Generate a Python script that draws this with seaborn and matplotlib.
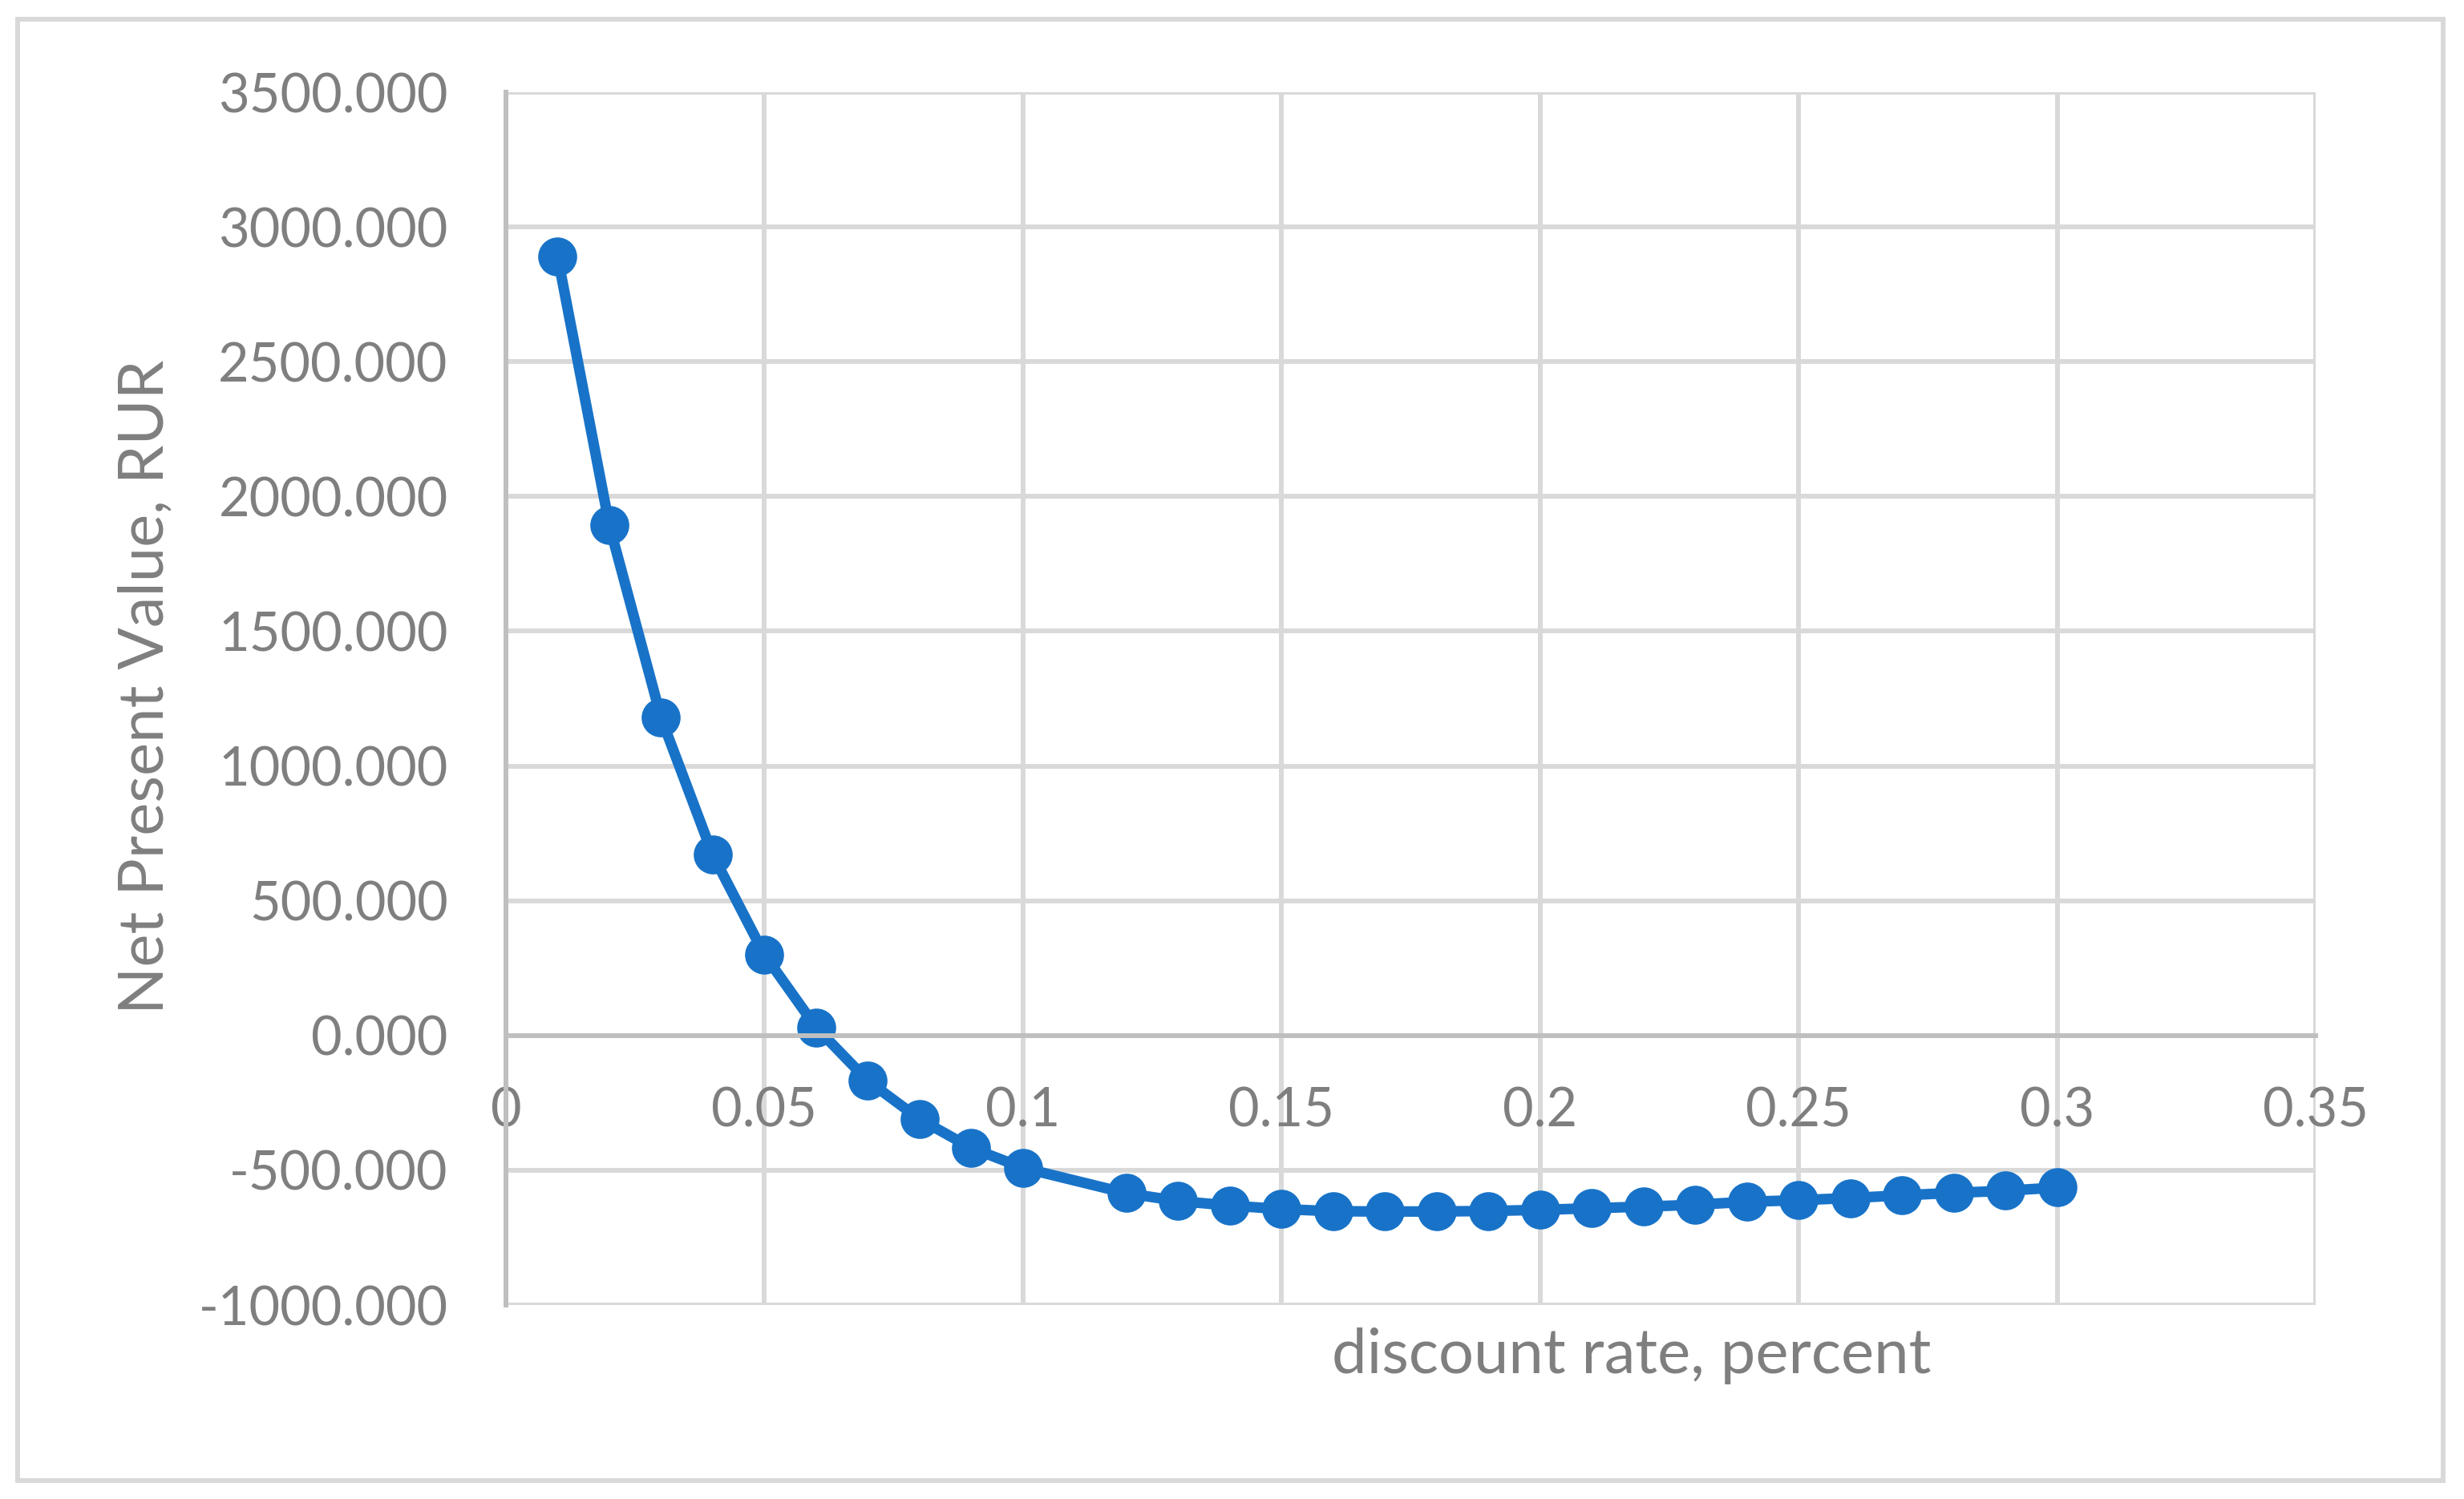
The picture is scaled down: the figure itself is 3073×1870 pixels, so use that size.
import matplotlib
matplotlib.use("Agg")
import matplotlib.pyplot as plt
import seaborn as sns
import pandas as pd
from matplotlib.patches import Rectangle

# discount rate vs NPV (0.11 is not in the source table)
rate = [0.01, 0.02, 0.03, 0.04, 0.05, 0.06, 0.07, 0.08, 0.09, 0.10,
        0.12, 0.13, 0.14, 0.15, 0.16, 0.17, 0.18, 0.19, 0.20, 0.21,
        0.22, 0.23, 0.24, 0.25, 0.26, 0.27, 0.28, 0.29, 0.30]
npv = [2891, 1894, 1180, 671, 300, 30, -168, -310, -417, -491,
       -585, -614, -631, -644, -652, -653, -653, -651, -647, -641,
       -635, -628, -617, -611, -603, -593, -584, -576, -564]

x_ticks = [0, 0.05, 0.1, 0.15, 0.2, 0.25, 0.3, 0.35]
x_labels = ["0", "0.05", "0.1", "0.15", "0.2", "0.25", "0.3", "0.35"]
y_ticks = [-1000, -500, 0, 500, 1000, 1500, 2000, 2500, 3000, 3500]
y_labels = [f"{v:.3f}" for v in y_ticks]

df = pd.DataFrame({"rate": rate, "npv": npv})

sns.set_style("white")
plt.rcParams["font.family"] = ["Lato", "DejaVu Sans"]

txt = "#7f7f7f"
grid = "#d9d9d9"
axis_c = "#bfbfbf"
blue = "#1873c8"

fig = plt.figure(figsize=(30.73, 18.70), dpi=100)
ax = fig.add_axes([0.2053, 0.1294, 0.9398 - 0.2053, 0.9385 - 0.1294])

sns.lineplot(data=df, x="rate", y="npv", ax=ax, color=blue, linewidth=9.5,
             marker="o", markersize=35, markeredgewidth=0, sort=False)

ax.set_xlim(0, 0.35)
ax.set_ylim(-1000, 3500)
ax.set_xticks(x_ticks)
ax.set_xticklabels(x_labels)
ax.set_yticks(y_ticks)
ax.set_yticklabels(y_labels)

ax.grid(True, color=grid, linewidth=4.3)
ax.set_axisbelow(True)

for s in ["top", "right"]:
    ax.spines[s].set_visible(False)
ax.spines["left"].set_color(axis_c)
ax.spines["left"].set_linewidth(4.3)
ax.spines["bottom"].set_position(("data", 0))
ax.spines["bottom"].set_color(axis_c)
ax.spines["bottom"].set_linewidth(4.3)

ax.tick_params(axis="both", length=0, labelsize=48, colors=txt)
ax.tick_params(axis="y", pad=52)
ax.tick_params(axis="x", pad=46)

ax.set_xlabel("discount rate, percent", fontsize=56, color=txt, va="center")
ax.xaxis.set_label_coords(0.622, -0.042)
ax.set_ylabel("Net Present Value, RUR", fontsize=56, color=txt, va="center")
ax.yaxis.set_label_coords(-0.199, 0.51)

fig.patches.append(Rectangle((0.0072, 0.0123), 0.9843, 0.9747, transform=fig.transFigure,
                             fill=False, edgecolor=grid, linewidth=4.3))

fig.savefig("out.png", dpi=100)
